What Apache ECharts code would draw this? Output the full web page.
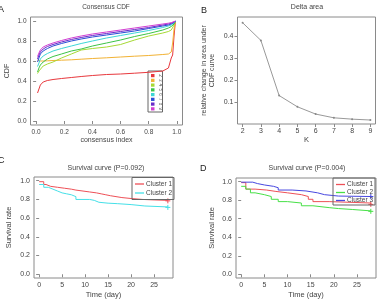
<!DOCTYPE html>
<html>
<head>
<meta charset="utf-8">
<script src="https://cdn.jsdelivr.net/npm/echarts@6/dist/echarts.min.js"></script>
<style>
  html, body { margin: 0; padding: 0; background: #fff; }
  #chart { width: 377px; height: 300px; }
</style>
</head>
<body>
<div id="chart"></div>
<script>
// ---- data ----
var cdfIndex = [0.01, 0.02, 0.03, 0.05, 0.08, 0.12, 0.18, 0.25, 0.32, 0.4, 0.5, 0.6, 0.7, 0.8, 0.9, 0.94, 0.96, 0.97, 0.98, 0.99];
var cdfK = ['2', '3', '4', '5', '6', '7', '8', '9'];
var cdfColors = ['#E8383D', '#F2B234', '#A6D934', '#3DC447', '#3DD6D6', '#2A4FD6', '#6A2CC9', '#D23ED2'];
var cdfK2 = [0.28, 0.32, 0.36, 0.39, 0.405, 0.415, 0.425, 0.435, 0.445, 0.455, 0.465, 0.47, 0.478, 0.487, 0.50, 0.53, 0.63, 0.66, 0.85, 1.0];
var cdfK3 = [0.61, 0.605, 0.60, 0.60, 0.602, 0.605, 0.608, 0.612, 0.618, 0.625, 0.632, 0.64, 0.648, 0.655, 0.665, 0.67, 0.69, 0.78, 0.92, 1.0];
var cdfK4 = [0.475, 0.50, 0.52, 0.55, 0.57, 0.59, 0.63, 0.67, 0.71, 0.725, 0.74, 0.765, 0.81, 0.85, 0.88, 0.895, 0.91, 0.93, 0.96, 1.0];
var cdfK5 = [0.49, 0.53, 0.56, 0.59, 0.62, 0.645, 0.67, 0.70, 0.72, 0.75, 0.78, 0.81, 0.845, 0.875, 0.91, 0.93, 0.945, 0.955, 0.97, 1.0];
var cdfK6 = [0.545, 0.58, 0.62, 0.65, 0.675, 0.70, 0.725, 0.75, 0.775, 0.80, 0.83, 0.855, 0.88, 0.905, 0.935, 0.95, 0.96, 0.97, 0.98, 1.0];
var cdfK7 = [0.59, 0.63, 0.67, 0.70, 0.725, 0.75, 0.775, 0.80, 0.82, 0.84, 0.86, 0.88, 0.90, 0.925, 0.95, 0.96, 0.97, 0.975, 0.985, 1.0];
var cdfK8 = [0.62, 0.66, 0.69, 0.72, 0.745, 0.765, 0.79, 0.815, 0.835, 0.855, 0.875, 0.895, 0.915, 0.935, 0.96, 0.97, 0.977, 0.982, 0.99, 1.0];
var cdfK9 = [0.645, 0.68, 0.71, 0.74, 0.76, 0.78, 0.805, 0.83, 0.85, 0.87, 0.89, 0.91, 0.93, 0.95, 0.97, 0.978, 0.984, 0.988, 0.994, 1.0];
var cdfCurves = [cdfK2, cdfK3, cdfK4, cdfK5, cdfK6, cdfK7, cdfK8, cdfK9];

var deltaK = [2, 3, 4, 5, 6, 7, 8, 9];
var deltaArea = [0.46, 0.38, 0.13, 0.079, 0.046, 0.029, 0.023, 0.019];

// survival C (P=0.092)
var cTime1 = [0, 1, 1.5, 2.5, 4, 5.5, 7, 8, 11, 12.5, 13.5, 14.5, 15.5, 18, 20, 22.5, 25, 28];
var cSurv1 = [0.99, 0.96, 0.94, 0.93, 0.92, 0.91, 0.90, 0.88, 0.87, 0.86, 0.85, 0.84, 0.82, 0.81, 0.80, 0.795, 0.79, 0.785];
var cTime2 = [0, 1, 2, 3, 4, 5, 6, 7, 8, 11, 12, 13, 15, 17, 20, 23, 28];
var cSurv2 = [0.96, 0.93, 0.91, 0.89, 0.87, 0.86, 0.85, 0.83, 0.80, 0.79, 0.77, 0.76, 0.755, 0.745, 0.73, 0.72, 0.715];

// survival D (P=0.004)
var dTime1 = [0, 1, 3, 5.5, 7.5, 10, 13, 14.5, 15.5, 19, 28];
var dSurv1 = [0.99, 0.92, 0.91, 0.895, 0.88, 0.86, 0.84, 0.81, 0.785, 0.77, 0.755];
var dTime2 = [0, 1, 2, 3, 5, 6.5, 8, 10, 13, 15.5, 19, 21, 24, 28];
var dSurv2 = [0.95, 0.92, 0.88, 0.86, 0.84, 0.81, 0.785, 0.77, 0.74, 0.72, 0.71, 0.70, 0.685, 0.68];
var dTime3 = [0, 2.5, 3.5, 5, 7, 8, 11, 14, 16.5, 18, 21, 28];
var dSurv3 = [0.995, 0.98, 0.965, 0.95, 0.935, 0.91, 0.90, 0.88, 0.86, 0.845, 0.84, 0.84];

var cdfTicks = [0, 0.2, 0.4, 0.6, 0.8, 1.0];
var deltaYTicks = [0.1, 0.2, 0.3, 0.4];
var timeTicks = [0, 5, 10, 15, 20, 25];
var survTicks = [0, 0.2, 0.4, 0.6, 0.8, 1.0];

var FONT = 'Liberation Sans, Arial, sans-serif';
var GRAY = '#8a8a8a';
var TXT = '#444';

var chart = echarts.init(document.getElementById('chart'), null, { renderer: 'canvas' });

function zip(xs, ys) {
    return xs.map(function (x, i) { return [x, ys[i]]; });
}

// last point gets the "+" censor mark
function kmData(xs, ys) {
    var d = zip(xs, ys);
    d[d.length - 1] = {
        value: d[d.length - 1],
        symbol: 'path://M5,0V10M0,5H10',
        symbolSize: 5
    };
    return d;
}

function valAxis(idx, min, max, ticks, name, gap, fs, fmt, extra) {
    var a = {
        type: 'value', gridIndex: idx, min: min, max: max,
        name: name, nameLocation: 'middle', nameGap: gap,
        nameTextStyle: { fontFamily: FONT, fontSize: fs + 0.5, color: TXT },
        axisLine: { show: false },
        axisTick: { show: true, customValues: ticks, length: 3, lineStyle: { color: GRAY } },
        axisLabel: {
            customValues: ticks, fontFamily: FONT, fontSize: fs, color: TXT, margin: 4,
            formatter: fmt
        },
        splitLine: { show: false }
    };
    for (var k in extra) a[k] = extra[k];
    return a;
}
function f1(v) { return v.toFixed(1); }
function f0(v) { return String(Math.round(v)); }

var gridBox = { show: true, borderColor: GRAY, borderWidth: 1, containLabel: false };

var series = [];
cdfCurves.forEach(function (ys, i) {
    series.push({
        name: cdfK[i], type: 'line', xAxisIndex: 0, yAxisIndex: 0,
        data: zip(cdfIndex, ys), showSymbol: false, symbol: 'none',
        lineStyle: { color: cdfColors[i], width: 1 }, itemStyle: { color: cdfColors[i] },
        silent: true, animation: false
    });
});
series.push({
    name: 'delta', type: 'line', xAxisIndex: 1, yAxisIndex: 1,
    data: zip(deltaK, deltaArea), symbol: 'circle', symbolSize: 2,
    lineStyle: { color: '#999', width: 1 }, itemStyle: { color: '#888' },
    animation: false
});
var survC = [
    ['Cluster 1', cTime1, cSurv1, '#EE5057'],
    ['Cluster 2', cTime2, cSurv2, '#45E0E8']
];
var survD = [
    ['Cluster 1', dTime1, dSurv1, '#EE5057'],
    ['Cluster 2', dTime2, dSurv2, '#47E047'],
    ['Cluster 3', dTime3, dSurv3, '#4848E0']
];
survC.forEach(function (s) {
    series.push({
        name: s[0], type: 'line', step: 'end', xAxisIndex: 2, yAxisIndex: 2,
        data: kmData(s[1], s[2]), symbol: 'none', showSymbol: true,
        lineStyle: { color: s[3], width: 1 }, itemStyle: { color: s[3], borderColor: s[3], borderWidth: 1 },
        animation: false
    });
});
survD.forEach(function (s) {
    series.push({
        name: s[0], type: 'line', step: 'end', xAxisIndex: 3, yAxisIndex: 3,
        data: kmData(s[1], s[2]), symbol: 'none', showSymbol: true,
        lineStyle: { color: s[3], width: 1 }, itemStyle: { color: s[3], borderColor: s[3], borderWidth: 1 },
        animation: false
    });
});

function legendOf(list, left, top, gap, pad) {
    return {
        left: left, top: top, orient: 'vertical', itemGap: gap,
        itemWidth: 9, itemHeight: 1.3, padding: pad,
        borderColor: '#666', borderWidth: 1, selectedMode: false,
        textStyle: { fontFamily: FONT, fontSize: 6.5, lineHeight: 6, color: TXT, padding: [0, 0, 0, -3] },
        data: list.map(function (s) {
            return { name: s[0], icon: 'rect', itemStyle: { color: s[3], borderWidth: 0 } };
        })
    };
}

// panel A legend: colour squares with rotated K labels
var legendA = [];
cdfK.forEach(function (k, i) {
    var y = 74 + i * 4.75;
    legendA.push({ type: 'rect', shape: { x: 151, y: y, width: 3.5, height: 3.2 }, style: { fill: cdfColors[i] }, silent: true });
    legendA.push({
        type: 'text', x: 160, y: y + 1.6, rotation: -Math.PI / 2,
        style: { text: k, fontFamily: FONT, fontSize: 4.5, fill: '#555', align: 'center', verticalAlign: 'middle' }, silent: true
    });
});
legendA.push({ type: 'rect', shape: { x: 148, y: 71, width: 14.5, height: 41 }, style: { fill: 'none', stroke: '#666', lineWidth: 1 }, silent: true });

function letter(t, x, y) {
    return { type: 'text', x: x, y: y, style: { text: t, fontFamily: FONT, fontSize: 9, fill: '#222' }, silent: true };
}
function title(t, cx, y, fs) {
    return { type: 'text', x: cx, y: y, style: { text: t, fontFamily: FONT, fontSize: fs, fill: TXT, align: 'center', verticalAlign: 'middle' }, silent: true };
}

var option = {
    backgroundColor: '#fff',
    animation: false,
    grid: [
        Object.assign({ left: 30.5, top: 17, width: 152, height: 108 }, gridBox),
        Object.assign({ left: 237.5, top: 17, width: 138, height: 107 }, gridBox),
        Object.assign({ left: 34, top: 177, width: 139, height: 104 }, gridBox),
        Object.assign({ left: 236, top: 178, width: 140, height: 102 }, gridBox)
    ],
    xAxis: [
        valAxis(0, -0.04, 1.04, cdfTicks, 'consensus index', 12, 6.5, f1),
        valAxis(1, 1.72, 9.28, deltaK, 'K', 11, 7, f0),
        valAxis(2, -1.12, 29.12, timeTicks, 'Time (day)', 13, 7, f0),
        valAxis(3, -1.12, 29.12, timeTicks, 'Time (day)', 13, 7, f0)
    ],
    yAxis: [
        valAxis(0, -0.04, 1.04, cdfTicks, 'CDF', 20, 6.5, f1),
        valAxis(1, 0.001, 0.486, deltaYTicks, 'relative change in area under\nCDF curve', 21, 7, f1,
            { nameTextStyle: { fontFamily: FONT, fontSize: 7, color: TXT, lineHeight: 8 } }),
        valAxis(2, -0.04, 1.04, survTicks, 'Survival rate', 21, 7, f1),
        valAxis(3, -0.04, 1.04, survTicks, 'Survival rate', 20, 7, f1)
    ],
    legend: [
        legendOf(survC, 132, 177.5, 2, [3, 2, 3, 3]),
        legendOf(survD, 333, 178, 1, [3, 2, 1, 3])
    ],
    graphic: [
        letter('A', -2, 5), letter('B', 201, 6), letter('C', -2, 156), letter('D', 200, 164),
        title('Consensus CDF', 106, 7, 6.5),
        title('Delta area', 307, 7, 7),
        title('Survival curve (P=0.092)', 106, 168, 7),
        title('Survival curve (P=0.004)', 307, 168, 7)
    ].concat(legendA),
    series: series
};

chart.setOption(option);
</script>
</body>
</html>
